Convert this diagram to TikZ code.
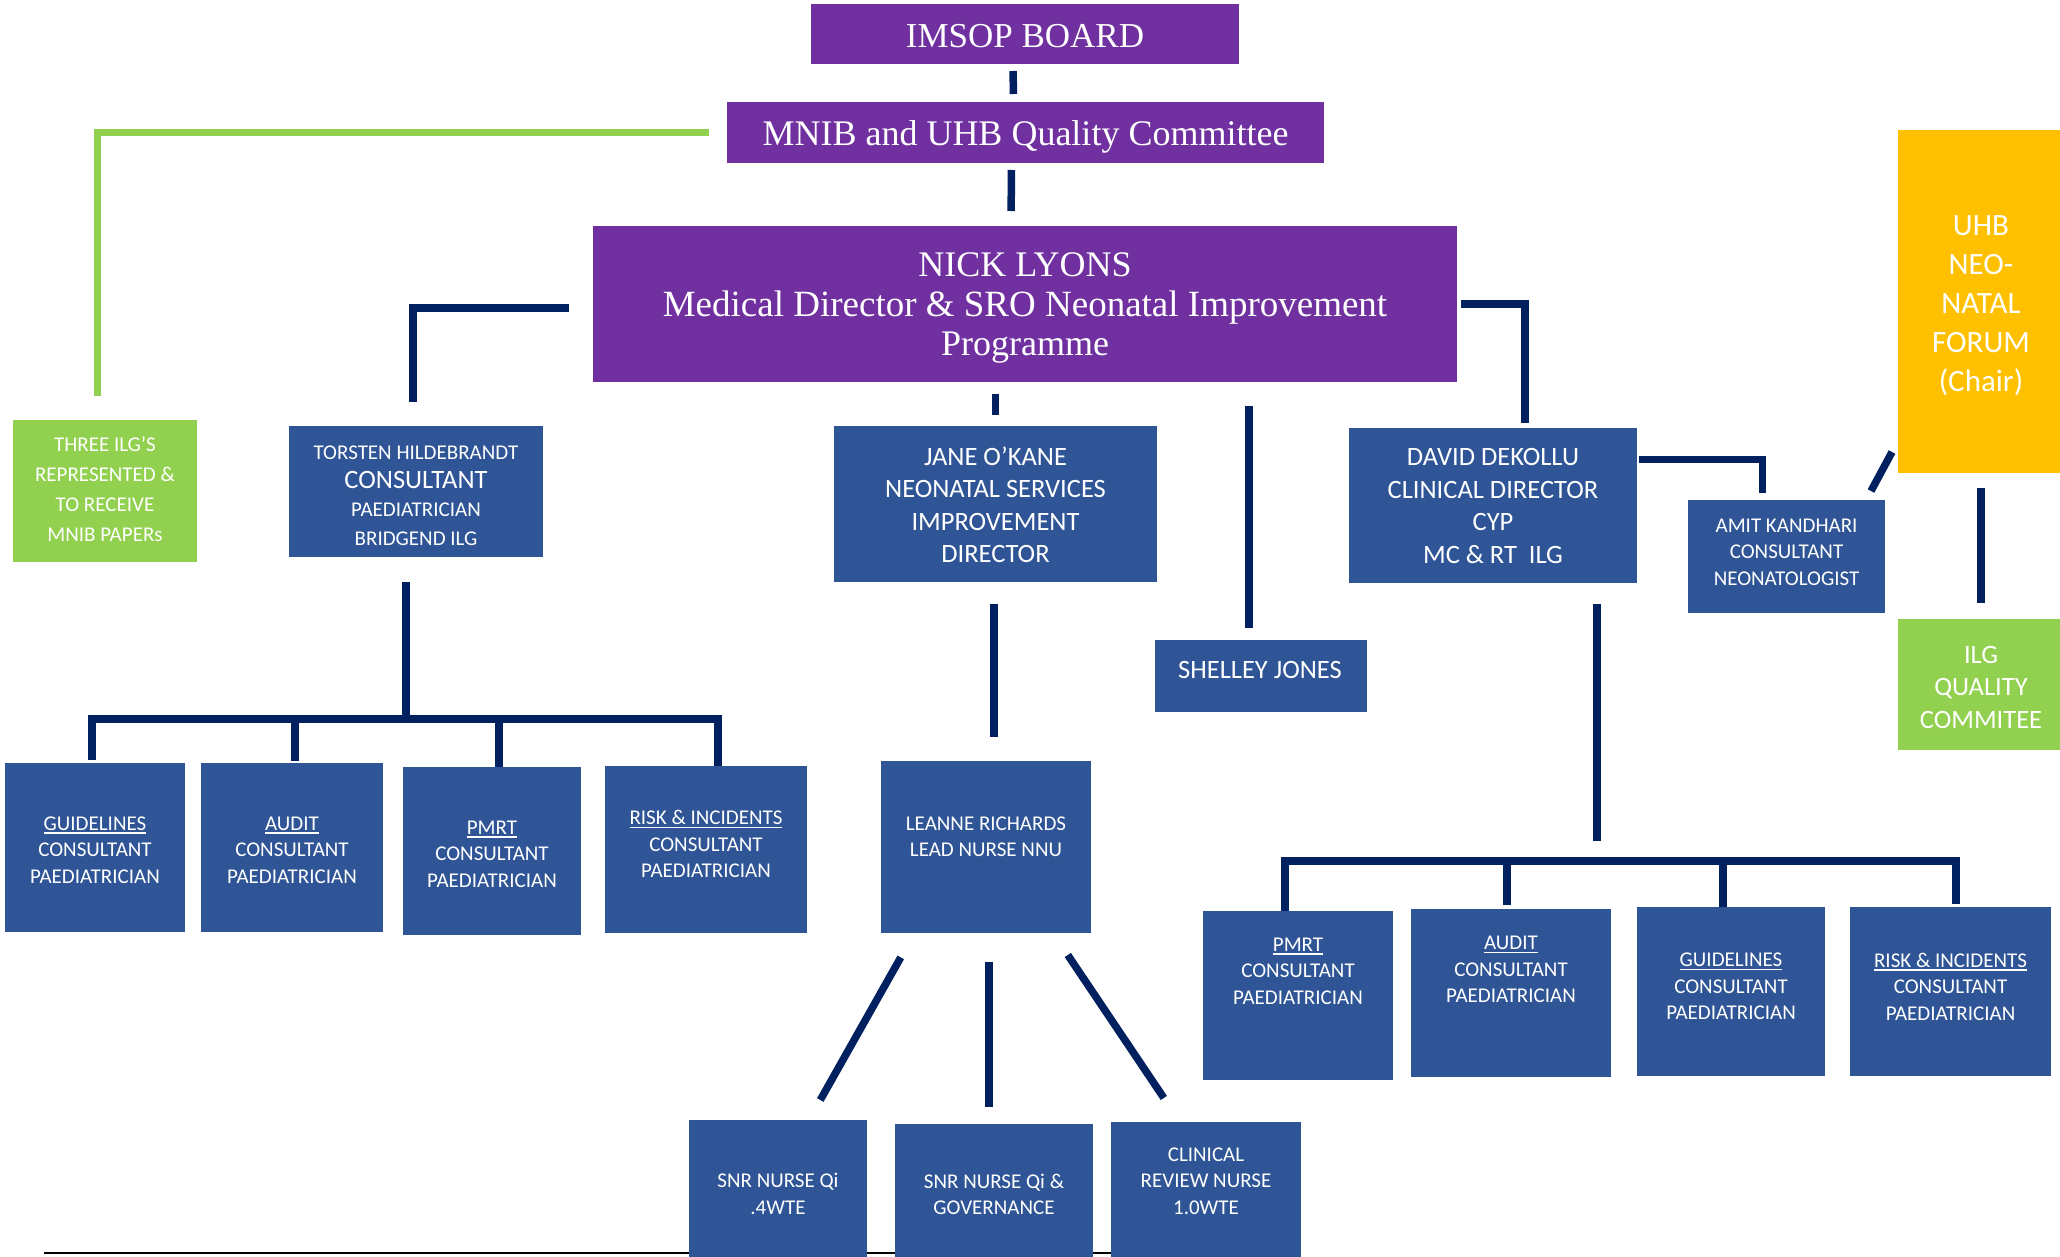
\documentclass[tikz,border=0pt]{standalone}
\usepackage{fontspec}
\setmainfont{Liberation Serif}
\newfontfamily\cfont{Carlito}
\definecolor{purp}{HTML}{7030A0}
\definecolor{boxblue}{HTML}{2F5597}
\definecolor{lgreen}{HTML}{92D050}
\definecolor{gold}{HTML}{FFC000}
\definecolor{navy}{HTML}{002060}
\newcommand\uln[1]{\setbox0\hbox{#1}\rlap{\rule[-3.5pt]{\wd0}{1.6pt}}\box0}
\begin{document}
\begin{tikzpicture}[x=1pt,y=-1pt,
  box/.style={inner sep=0pt, outer sep=0pt, draw=none},
  sz/.style 2 args={minimum width=#1pt, minimum height=#2pt},
  pbox/.style={box, fill=purp},
  bbox/.style={box, fill=boxblue},
  gbox/.style={box, fill=lgreen},
  obox/.style={box, fill=gold},
  serift/.style={text=white, align=center, inner sep=0pt, font=\fontsize{36}{39.5}\selectfont},
  sanst/.style={text=white, align=center, inner sep=0pt, font=\cfont\fontsize{21}{26.5}\selectfont},
  midt/.style={sanst, font=\cfont\fontsize{26.5}{32.5}\selectfont},
  link/.style={draw=navy, line width=7.5pt},
  glink/.style={draw=lgreen, line width=7pt},
]
\useasboundingbox (0,0) rectangle (2060,1257);
\clip (0,0) rectangle (2060,1257);

% bottom rule
\draw[black, line width=2pt] (44,1253) -- (1111,1253);

% boxes
\node[pbox, sz={428}{60}] (imsop) at (1025,34) {};
\node[pbox, sz={597}{61}] (mnib) at (1025.5,132.5) {};
\node[pbox, sz={864}{156}] (nick) at (1025,304) {};
\node[gbox, sz={184}{142}] (ilg3) at (105,491) {};
\node[bbox, sz={254}{131}] (torsten) at (416,491.5) {};
\node[bbox, sz={323}{156}] (jane) at (995.5,504) {};
\node[bbox, sz={212}{72}] (shelley) at (1261,676) {};
\node[bbox, sz={288}{155}] (david) at (1493,505.5) {};
\node[bbox, sz={197}{113}] (amit) at (1786.5,556.5) {};
\node[obox, sz={166}{343}] (uhb) at (1981,301.5) {};
\node[gbox, sz={166}{131}] (ilgq) at (1981,684.5) {};
\node[bbox, sz={180}{169}] (lg) at (95,847.5) {};
\node[bbox, sz={182}{169}] (la) at (292,847.5) {};
\node[bbox, sz={178}{168}] (lp) at (492,851) {};
\node[bbox, sz={202}{167}] (lr) at (706,849.5) {};
\node[bbox, sz={210}{172}] (leanne) at (986,847) {};
\node[bbox, sz={178}{150}] (snr1) at (778,1195) {};
\node[bbox, sz={198}{146}] (snr2) at (994,1197) {};
\node[bbox, sz={190}{148}] (clin) at (1206,1196) {};
\node[bbox, sz={190}{169}] (rp) at (1298,995.5) {};
\node[bbox, sz={200}{168}] (ra) at (1511,993) {};
\node[bbox, sz={188}{169}] (rg) at (1731,991.5) {};
\node[bbox, sz={201}{169}] (rr) at (1950.5,991.5) {};

% texts
\node[serift, font=\fontsize{35}{40}\selectfont] (imsopt) at (1025,36) {IMSOP BOARD};
\node[serift] (mnibt) at (1025.5,137) {MNIB and UHB Quality Committee};
\node[serift] (nickt) at (1025,308) {NICK LYONS\\{\fontsize{37}{39.5}\selectfont Medical Director \& SRO Neonatal Improvement}\\Programme};
\node[sanst, font=\cfont\fontsize{21}{30}\selectfont] (ilg3t) at (105,489) {THREE ILG’S\\REPRESENTED \&\\TO RECEIVE\\MNIB PAPERs};
\node[sanst, font=\cfont\fontsize{21}{28.5}\selectfont] (torstent) at (416,496) {TORSTEN HILDEBRANDT\\{\fontsize{26.5}{28.5}\selectfont CONSULTANT}\\PAEDIATRICIAN\\BRIDGEND ILG};
\node[midt] (janet) at (995.5,504.5) {JANE O’KANE\\NEONATAL SERVICES\\IMPROVEMENT\\DIRECTOR};
\node[midt] (shelleyt) at (1260,670) {SHELLEY JONES};
\node[midt] (davidt) at (1493,506) {DAVID DEKOLLU\\CLINICAL DIRECTOR\\CYP\\MC \& RT\ \ ILG};
\node[sanst] (amitt) at (1786.5,552) {AMIT KANDHARI\\CONSULTANT\\NEONATOLOGIST};
\node[sanst, font=\cfont\fontsize{31}{39}\selectfont] (uhbt) at (1981,306) {UHB\\NEO-\\NATAL\\FORUM\\(Chair)};
\node[midt] (ilgqt) at (1981,687) {ILG\\QUALITY\\COMMITEE};
\node[sanst] (lgt) at (95,850) {\uln{GUIDELINES}\\CONSULTANT\\PAEDIATRICIAN};
\node[sanst] (lat) at (292,850) {\uln{AUDIT}\\CONSULTANT\\PAEDIATRICIAN};
\node[sanst] (lpt) at (492,854) {\uln{PMRT}\\CONSULTANT\\PAEDIATRICIAN};
\node[sanst] (lrt) at (706,844) {\uln{RISK \& INCIDENTS}\\CONSULTANT\\PAEDIATRICIAN};
\node[sanst] (leannet) at (986,837) {LEANNE RICHARDS\\LEAD NURSE NNU};
\node[sanst] (snr1t) at (778,1194) {SNR NURSE Qi\\.4WTE};
\node[sanst] (snr2t) at (994,1194.5) {SNR NURSE Qi \&\\GOVERNANCE};
\node[sanst] (clint) at (1206,1181) {CLINICAL\\REVIEW NURSE\\1.0WTE};
\node[sanst] (rpt) at (1298,971) {\uln{PMRT}\\CONSULTANT\\PAEDIATRICIAN};
\node[sanst] (rat) at (1511,969.5) {\uln{AUDIT}\\CONSULTANT\\PAEDIATRICIAN};
\node[sanst] (rgt) at (1731,986.5) {\uln{GUIDELINES}\\CONSULTANT\\PAEDIATRICIAN};
\node[sanst] (rrt) at (1950.5,986.5) {\uln{RISK \& INCIDENTS}\\CONSULTANT\\PAEDIATRICIAN};

% connectors top
\draw[link, shorten <=7pt, shorten >=8pt] ([xshift=-12pt]imsop.south) -- ([xshift=-12pt]mnib.north);
\draw[link, shorten <=7pt, shorten >=15pt] ([xshift=-14pt]mnib.south) -- ([xshift=-14pt]nick.north);
\draw[glink, shorten <=18pt, shorten >=24pt] (mnib.west) -| ([xshift=-8pt]ilg3.north);
\draw[link, shorten <=24pt, shorten >=24pt] ([yshift=-4pt]nick.west) -| ([xshift=-3pt]torsten.north);
\draw[link, shorten <=12pt, shorten >=11pt] (nick.south -| jane.north) -- (jane.north);
\coordinate (shtop) at ([xshift=-12pt]shelley.north);
\draw[link, shorten <=24pt, shorten >=12pt] (nick.south -| shtop) -- (shtop);
\draw[link, shorten <=4pt, shorten >=5pt] (nick.east) -| ([xshift=32pt]david.north);
\draw[link, shorten <=2pt, shorten >=7pt] ([yshift=46pt]david.east) -| ([xshift=-24pt]amit.north);
\draw[link] ([xshift=-14pt,yshift=9pt]amit.north east) -- ([xshift=-6pt,yshift=21pt]uhb.south west);
\draw[link, shorten <=15pt, shorten >=16pt] (uhb.south) -- (ilgq.north);

% left tree
\coordinate (lbus) at (406,719);
\draw[link, shorten <=25pt] (torsten.south -| lbus) -- (lbus);
\coordinate (lgtop) at ([xshift=-3pt]lg.north);
\coordinate (latop) at ([xshift=3pt]la.north);
\coordinate (lptop) at ([xshift=7pt]lp.north);
\coordinate (lrtop) at ([xshift=12pt]lr.north);
\draw[link, shorten <=3pt] (lgtop) |- (lbus) -| (lrtop);
\draw[link, shorten >=2pt] (latop |- lbus) -- (latop);
\draw[link] (lptop |- lbus) -- (lptop);

% middle tree
\coordinate (lntop) at ([xshift=8pt]leanne.north);
\draw[link, shorten <=22pt, shorten >=24pt] (jane.south -| lntop) -- (lntop);
\draw[link, shorten <=28pt, shorten >=23pt] ([xshift=-71.5pt]leanne.south) -- ([xshift=31pt]snr1.north);
\coordinate (s2top) at ([xshift=-5pt]snr2.north);
\draw[link, shorten <=29pt, shorten >=17pt] (leanne.south -| s2top) -- (s2top);
\draw[link, shorten <=26.5pt, shorten >=29pt] ([xshift=67pt]leanne.south) -- ([xshift=-26pt]clin.north);

% right tree
\coordinate (rbus) at (1597,861);
\coordinate (dbot) at ([xshift=104pt]david.south);
\draw[link, shorten <=21pt, shorten >=20pt] (dbot) -- (dbot |- rbus);
\coordinate (rptop) at ([xshift=-13pt]rp.north);
\coordinate (ratop) at ([xshift=-4pt]ra.north);
\coordinate (rgtop) at ([xshift=-8pt]rg.north);
\coordinate (rrtop) at ([xshift=5.5pt]rr.north);
\draw[link, shorten >=3pt] (rptop) |- (rbus) -| (rrtop);
\draw[link, shorten >=4pt] (ratop |- rbus) -- (ratop);
\draw[link] (rgtop |- rbus) -- (rgtop);
\end{tikzpicture}
\end{document}
